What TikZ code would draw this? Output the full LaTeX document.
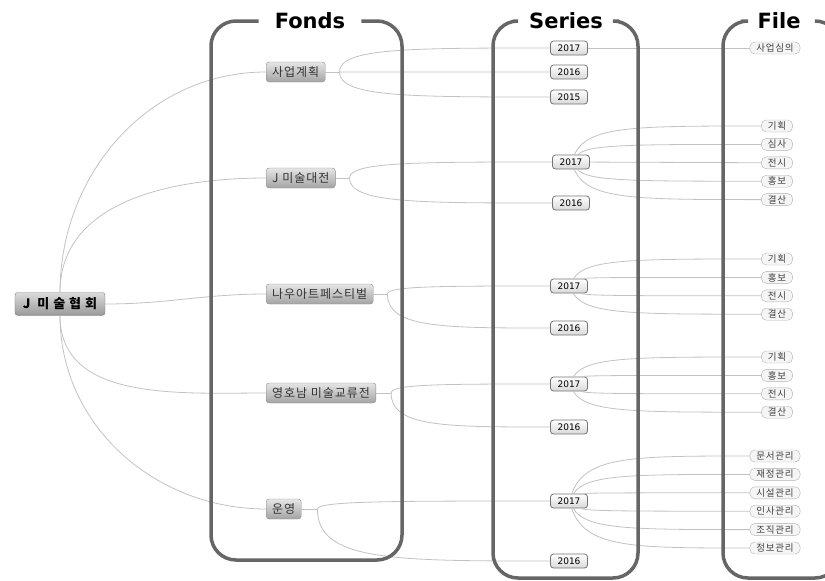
\documentclass[tikz,border=0pt]{standalone}
\usepackage{fontspec}
\newfontfamily\krfont[LetterSpace=8]{Noto Sans CJK KR}
\newfontfamily\numfont{DejaVu Sans}
\usetikzlibrary{positioning,calc}

\tikzset{
    root/.style={draw=black!50, rounded corners=3pt, top color=black!14, bottom color=black!40,
        minimum height=23pt, inner xsep=8pt,
        font=\krfont\bfseries\fontsize{13}{15}\selectfont\addfontfeature{LetterSpace=30}},
    fonds/.style={draw=black!45, rounded corners=3pt, top color=black!10, bottom color=black!36,
        minimum height=20pt, inner xsep=6pt, anchor=west, text=black!80,
        font=\krfont\fontsize{12}{14}\selectfont},
    year/.style={draw=black!55, line width=0.8pt, rounded corners=3pt, top color=white, bottom color=black!15,
        minimum width=37pt, minimum height=14pt, inner sep=1pt,
        font=\numfont\fontsize{9}{11}\selectfont},
    filebox/.style={draw=black!30, rounded corners=5pt, fill=black!4, minimum height=12pt,
        inner xsep=6.5pt, inner ysep=1pt, text=black!75, font=\krfont\fontsize{9.5}{10}\selectfont},
    title/.style={inner xsep=16pt, font=\numfont\bfseries\fontsize{21}{25}\selectfont},
    bracket/.style={draw=black!60, line width=3.5pt, rounded corners=25pt},
    link/.style={draw=black!24, line width=0.8pt},
    fork/.style={to path={.. controls ($(\tikztostart|-\tikztotarget)!#1!(\tikztotarget)$)
        and ($(\tikztostart|-\tikztotarget)!0.3!(\tikztotarget)$) .. (\tikztotarget)}},
    fork/.default=0,
}

\begin{document}
\begin{tikzpicture}[x=1pt, y=1pt]

    \useasboundingbox (0,0) rectangle (825,-581);
    \clip (0,0) rectangle (825,-581);

    \node [root] (root) at (60,-304) {J 미술협회}; % root topic

    \node [fonds] (f1) at (266,-72) {사업계획};
    \node [fonds] (f2) at (266,-178) {J 미술대전};
    \node [fonds] (f3) at (266,-294) {나우아트페스티벌};
    \node [fonds] (f4) at (266,-393) {영호남 미술교류전};
    \node [fonds] (f5) at (266,-509) {운영};

    \node [year] (s11) at (569,-48) {2017}; % series of 사업계획
    \node [year] (s12) at (569,-72) {2016};
    \node [year] (s13) at (569,-97) {2015};
    \node [year] (s21) at (571,-162) {2017}; % series of J 미술대전
    \node [year] (s22) at (571,-203) {2016};
    \node [year] (s31) at (569,-286) {2017}; % series of 나우아트페스티벌
    \node [year] (s32) at (569,-328) {2016};
    \node [year] (s41) at (569,-384) {2017}; % series of 영호남 미술교류전
    \node [year] (s42) at (569,-427) {2016};
    \node [year] (s51) at (569,-501) {2017}; % series of 운영
    \node [year] (s52) at (569,-561) {2016};

    \node [filebox] (a1) at (775,-48) {사업심의}; % files of s11

    \node [filebox] (b1) at (777,-126) {기획}; % files of s21
    \node [filebox, below=6pt of b1] (b2) {심사};
    \node [filebox, below=6pt of b2] (b3) {전시};
    \node [filebox, below=6pt of b3] (b4) {홍보};
    \node [filebox, below=6pt of b4] (b5) {결산};

    \node [filebox] (c1) at (777,-259) {기획}; % files of s31
    \node [filebox, below=6pt of c1] (c2) {홍보};
    \node [filebox, below=6pt of c2] (c3) {전시};
    \node [filebox, below=6pt of c3] (c4) {결산};

    \node [filebox] (d1) at (777,-357) {기획}; % files of s41
    \node [filebox, below=6pt of d1] (d2) {홍보};
    \node [filebox, below=6pt of d2] (d3) {전시};
    \node [filebox, below=6pt of d3] (d4) {결산};

    \node [filebox] (e1) at (775,-456) {문서관리}; % files of s51
    \node [filebox, below=6pt of e1] (e2) {재정관리};
    \node [filebox, below=6pt of e2] (e3) {시설관리};
    \node [filebox, below=6pt of e3] (e4) {인사관리};
    \node [filebox, below=6pt of e4] (e5) {조직관리};
    \node [filebox, below=6pt of e5] (e6) {정보관리};

    % root to fonds
    \draw [link] (root) to[out=90, in=180] (f1);
    \draw [link] (root) to[out=90, in=180] (f2);
    \draw [link] (root) to[out=0, in=180] (f3);
    \draw [link] (root) to[out=-90, in=180] (f4);
    \draw [link] (root) to[out=-90, in=180] (f5);

    % fonds to series
    \draw [link] (f1.east) -- ++(14,0) coordinate (k1);
    \draw [link] (k1) to[fork] (s11) (k1) -- (s12) (k1) to[fork] (s13);
    \draw [link] (f2.east) -- ++(14,0) coordinate (k2);
    \draw [link] (k2) to[fork] (s21) (k2) to[fork] (s22);
    \draw [link] (f3.east) -- ++(14,0) coordinate (k3);
    \draw [link] (k3) to[fork] (s31) (k3) to[fork] (s32);
    \draw [link] (f4.east) -- ++(15,0) coordinate (k4);
    \draw [link] (k4) to[fork] (s41) (k4) to[fork] (s42);
    \draw [link] (f5.east) -- ++(16,0) coordinate (k5);
    \draw [link] (k5) to[fork] (s51) (k5) to[fork] (s52);

    % series to files
    \draw [link] (s11) -- (a1);
    \draw [link] (s21) to[fork=0.08] (b1) (s21) to[fork=0.08] (b2) (s21) -- (b3)
        (s21) to[fork=0.08] (b4) (s21) to[fork=0.08] (b5);
    \draw [link] (s31) to[fork=0.08] (c1) (s31) to[fork=0.08] (c2)
        (s31) to[fork=0.08] (c3) (s31) to[fork=0.08] (c4);
    \draw [link] (s41) to[fork=0.08] (d1) (s41) to[fork=0.08] (d2)
        (s41) to[fork=0.08] (d3) (s41) to[fork=0.08] (d4);
    \draw [link] (s51) to[fork=0.08] (e1) (s51) to[fork=0.08] (e2) (s51) to[fork=0.08] (e3)
        (s51) to[fork=0.08] (e4) (s51) to[fork=0.08] (e5) (s51) to[fork=0.08] (e6);

    % column brackets with their titles
    \node [title] (tfonds) at (310,-21) {Fonds};
    \node [title] (tseries) at (566,-21) {Series};
    \node [title] (tfile) at (779,-21) {File};
    \draw [bracket] (tfonds.west) -| (211,-560) -| (402,-21) -- (tfonds.east);
    \draw [bracket] (tseries.west) -| (493,-578) -| (638,-21) -- (tseries.east);
    \draw [bracket] (tfile.west) -| (723,-578) -| (840,-21) -- (tfile.east);

\end{tikzpicture}
\end{document}
